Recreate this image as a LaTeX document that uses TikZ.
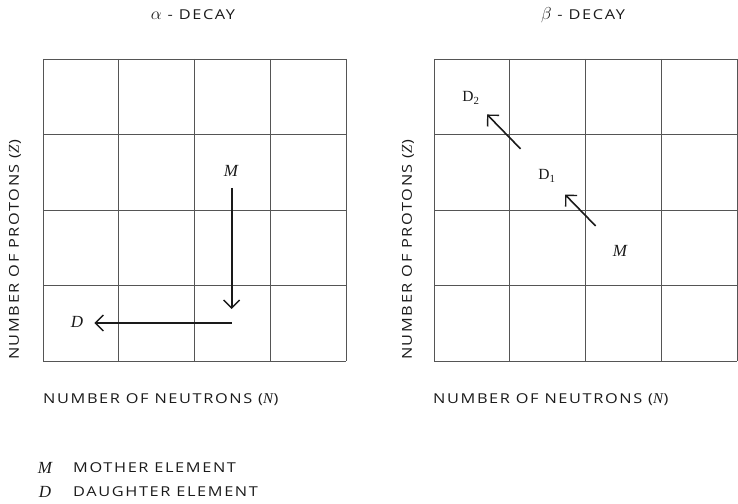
\documentclass[tikz,border=0pt]{standalone}
\usepackage{fontspec}
\setmainfont{Liberation Serif}
\newfontfamily\capsfont[FakeStretch=1.2, LetterSpace=12]{Open Sans}
\usetikzlibrary{arrows.meta, positioning}
\definecolor{gridgray}{HTML}{555555}
\definecolor{inkdark}{HTML}{1A1A1A}

\begin{document}
\begin{tikzpicture}[x=1pt, y=-1pt,
  every node/.style={font=\capsfont\fontsize{13.6}{16}\selectfont, text=inkdark, inner sep=1pt},
  gridline/.style={draw=gridgray, line width=0.8pt},
  decayarrow/.style={draw=inkdark, line width=1.6pt,
                     -{Straight Barb[length=8pt, width=16pt, line width=1.4pt]}},
  letter/.style={font=\rmfamily\itshape\fontsize{17}{19}\selectfont},
  isotope/.style={font=\rmfamily\fontsize{15.5}{17}\selectfont},
  axislabel/.style={rotate=90, anchor=center},
  title/.style={anchor=base},
]
\useasboundingbox (0,0) rectangle (738,503);

% Grids
\foreach \gx in {43, 434}{
  \foreach \i in {0,...,4}{
    \draw[gridline] (\gx+75.75*\i, 59) -- (\gx+75.75*\i, 361);
    \draw[gridline] (\gx, 59+75.5*\i) -- (\gx+303, 59+75.5*\i);
  }
}

% Titles and axis labels
\node[title] (alphatitle) at (193, 20) {{\rmfamily\fontsize{16}{18}\selectfont$\alpha$} - DECAY};
\node[title] (betatitle) at (583, 20) {{\rmfamily\fontsize{16}{18}\selectfont$\beta$} - DECAY};
\node[axislabel] (zleft) at (15, 250) {NUMBER OF PROTONS ({\rmfamily\itshape\fontsize{15}{17}\selectfont Z\/})};
\node[axislabel] (zright) at (408, 250) {NUMBER OF PROTONS ({\rmfamily\itshape\fontsize{15}{17}\selectfont Z\/})};
\node[anchor=west] (nleft) at (42, 400) {NUMBER OF NEUTRONS ({\rmfamily\itshape\fontsize{15}{17}\selectfont N\/})};
\node[anchor=west] (nright) at (432, 400) {NUMBER OF NEUTRONS ({\rmfamily\itshape\fontsize{15}{17}\selectfont N\/})};

% Alpha decay
\node[letter] (ma) at (231, 171) {M};
\node[letter] (da) at (77, 322) {D};
\coordinate (bend1) at (231.7, 309);
\coordinate (bend2) at (231.7, 323);
\draw[decayarrow, shorten <=10pt] (ma.south -| bend1) -- (bend1);
\draw[decayarrow, shorten >=10pt] (bend2) -- (da.east |- bend2);

% Beta decay
\node[letter] (mb) at (620, 251) {M};
\node[isotope] (done) at (547, 176) {D\textsubscript{1}};
\node[isotope] (dtwo) at (471, 98) {D\textsubscript{2}};
\draw[decayarrow, shorten <=35pt, shorten >=26pt] (mb.center) -- (done.center);
\draw[decayarrow, shorten <=38pt, shorten >=23pt] (done.center) -- (dtwo.center);

% Legend
\node[letter] (keym) at (45, 468) {M};
\node[anchor=west] (keymtext) at (72, 468) {MOTHER ELEMENT};
\node[letter] (keyd) at (45, 492) {D};
\node[anchor=west] (keydtext) at (72, 492) {DAUGHTER ELEMENT};
\end{tikzpicture}
\end{document}
